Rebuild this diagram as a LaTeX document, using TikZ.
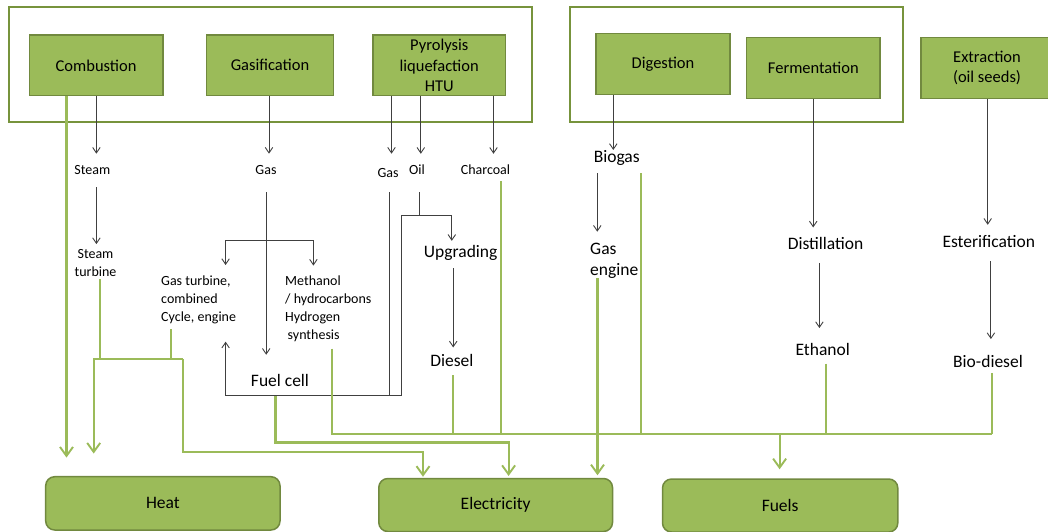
\documentclass[tikz,border=0pt]{standalone}
\usepackage{fontspec}
\setmainfont{Carlito}
\usetikzlibrary{arrows.meta}
\definecolor{leaf}{HTML}{9BBB59}
\definecolor{leafdark}{HTML}{71893F}
\definecolor{framegreen}{HTML}{77933C}
\definecolor{ink}{HTML}{404040}
\begin{document}
\begin{tikzpicture}[x=1pt,y=-1pt,
  procbox/.style={draw=leafdark, line width=1.5pt, fill=leaf, inner sep=0pt, align=center,
    font=\fontsize{16.5}{20.5}\selectfont},
  outbox/.style={procbox, rounded corners=9pt, font=\fontsize{17.5}{21}\selectfont},
  groupframe/.style={draw=framegreen, line width=2pt},
  small/.style={inner sep=0pt, font=\fontsize{14}{18}\selectfont},
  large/.style={inner sep=0pt, font=\fontsize{17.5}{21}\selectfont},
  flow/.style={draw=ink, line width=0.9pt},
  flowarr/.style={flow, -{Straight Barb[length=5.5pt,width=7.5pt]}},
  feed/.style={draw=leaf, line width=2.1pt},
  feedarr/.style={feed, -{Straight Barb[length=9pt,width=13pt,line width=1.9pt]}},
]
\path[use as bounding box] (0,0) rectangle (1048,531);

% group frames: thermo-chemical and bio-chemical routes
\draw[groupframe] (8.6,7.3) rectangle (532,121.7);
\draw[groupframe] (570,7.3) rectangle (902.7,122.3);

% conversion processes
\node[procbox, minimum width=133.6pt, minimum height=60.7pt] (comb) at (96.1,65.35) {Combustion};
\node[procbox, minimum width=126.7pt, minimum height=60.7pt] (gasif) at (270,65.35) {Gasification};
\node[procbox, minimum width=132.5pt, minimum height=60.7pt] (pyro) at (439.25,65.35) {Pyrolysis\\liquefaction\\HTU};
\node[procbox, minimum width=134pt, minimum height=61pt] (dig) at (663,63.8) {Digestion};
\node[procbox, minimum width=133.3pt, minimum height=60.6pt] (ferm) at (813.35,68) {Fermentation};
\node[procbox, minimum width=132pt, minimum height=60.6pt] (extr) at (987,68) {Extraction\\(oil seeds)};

% end uses
\node[outbox, minimum width=234.3pt, minimum height=53.3pt] (heat) at (162.85,503.35) {Heat};
\node[outbox, minimum width=233.7pt, minimum height=53pt] (elec) at (495.65,505) {Electricity};
\node[outbox, minimum width=235.3pt, minimum height=53pt] (fuels) at (780.15,505.5) {Fuels};

% intermediate products and conversion steps
\node[small] (steam) at (92.3,170) {Steam};
\node[small] (gasA) at (266,170) {Gas};
\node[small] (gasB) at (388,173.3) {Gas};
\node[small] (oil) at (417,170) {Oil};
\node[small] (charcoal) at (485.5,170) {Charcoal};
\node[small, align=center] (sturb) at (95.5,262.6) {Steam\\turbine};
\node[small, align=left, anchor=west] (gturb) at (161,299.7) {Gas turbine,\\combined\\Cycle, engine};
\node[small, align=left, anchor=west] (meth) at (285,309.2) {Methanol\\/ hydrocarbons\\Hydrogen\\\hspace{2.5pt}synthesis};
\node[large] (biogas) at (616.7,157.7) {Biogas};
\node[large, align=left, anchor=west] (gengine) at (590,260.5) {Gas\\engine};
\node[large] (upgr) at (460.7,253.3) {Upgrading};
\node[large] (diesel) at (451.8,360) {Diesel};
\node[large] (fcell) at (280,380.7) {Fuel cell};
\node[large] (distil) at (825.6,243.3) {Distillation};
\node[large] (ethanol) at (822.7,349.3) {Ethanol};
\node[large] (ester) at (988.8,241.7) {Esterification};
\node[large] (biodsl) at (988,361.7) {Bio-diesel};

% connector columns
\coordinate (cCombG) at (66.5,0);
\coordinate (cSteam) at (96.4,0);
\coordinate (cSturbG) at (100.2,0);
\coordinate (cGTg) at (171.1,0);
\coordinate (cGT) at (225.6,0);
\coordinate (cGasA) at (269,0);
\coordinate (cGasAlo) at (266.2,0);
\coordinate (cFC) at (275.5,0);
\coordinate (cMe) at (313.4,0);
\coordinate (cGasB) at (391.5,0);
\coordinate (cGasBlo) at (389.5,0);
\coordinate (cOil) at (420.8,0);
\coordinate (cOillo) at (419.4,0);
\coordinate (cE1) at (423,0);
\coordinate (cUp) at (451.8,0);
\coordinate (cUpD) at (453.2,0);
\coordinate (cDG) at (453.3,0);
\coordinate (cChar) at (493.5,0);
\coordinate (cCharG) at (501.3,0);
\coordinate (cE2) at (508.6,0);
\coordinate (cBioB) at (597.3,0);
\coordinate (cGE) at (597.5,0);
\coordinate (cDig) at (613.3,0);
\coordinate (cBioG) at (640.9,0);
\coordinate (cFu) at (779.6,0);
\coordinate (cFerm) at (813.2,0);
\coordinate (cDist) at (819.4,0);
\coordinate (cEtG) at (825.6,0);
\coordinate (cExtr) at (987.7,0);
\coordinate (cEst) at (990.9,0);
\coordinate (cBD) at (991.7,0);

% junctions and bends
\coordinate (tbar) at (266.2,240.7);
\coordinate (osplit) at (419.4,215);
\coordinate (loopR) at (401.2,395);
\coordinate (hL) at (93.7,359);
\coordinate (hR) at (183.2,359);
\coordinate (eBend) at (183.2,452);
\coordinate (fcBend) at (275.5,442.5);
\coordinate (busL) at (332.3,434);
\coordinate (busR) at (991.7,434);

% thermo-chemical chains
\draw[flowarr, shorten >=11.5pt] (comb.south -| cSteam) -- (cSteam |- steam.north);
\draw[flowarr, shorten <=12.2pt, shorten >=4.7pt] (cSteam |- steam.south) -- (cSteam |- sturb.north);
\draw[flowarr, shorten >=11.5pt] (gasif.south -| cGasA) -- (cGasA |- gasA.north);
\draw[flowarr, shorten <=17.5pt, shorten >=19.6pt] (cGasAlo |- gasA.south) -- (cGasAlo |- fcell.north);
\draw[flowarr, shorten >=10.4pt] (tbar) -| (cGT |- gturb.north);
\draw[flowarr, shorten >=10.4pt] (tbar) -| (cMe |- meth.north);
\draw[flowarr, shorten >=14.8pt] (pyro.south -| cGasB) -- (cGasB |- gasB.north);
\draw[flow, shorten <=14.2pt] (cGasBlo |- gasB.south) -- (cGasBlo |- loopR);
\draw[flowarr, shorten >=11.1pt] (pyro.south -| cOil) -- (cOil |- oil.north);
\draw[flow, shorten <=17pt] (cOillo |- oil.south) -- (osplit);
\draw[flowarr, shorten >=4.7pt] (osplit) -| (cUp |- upgr.north);
\draw[flowarr, shorten >=17.7pt] (osplit) -| (loopR) -| (cGT |- gturb.south);
\draw[flowarr, shorten >=11.1pt] (pyro.south -| cChar) -- (cChar |- charcoal.north);
\draw[flowarr, shorten <=7.1pt, shorten >=6.2pt] (cUpD |- upgr.south) -- (cUpD |- diesel.north);

% bio-chemical chains
\draw[flowarr] (dig.south -| cDig) -- (cDig |- biogas.north);
\draw[flowarr, shorten <=7.7pt, shorten >=10.9pt] (cBioB |- biogas.south) -- (cBioB |- gengine.north);
\draw[flowarr, shorten >=9.5pt] (ferm.south -| cFerm) -- (cFerm |- distil.north);
\draw[flowarr, shorten <=13.3pt, shorten >=14.9pt] (cDist |- distil.south) -- (cDist |- ethanol.north);
\draw[flowarr, shorten >=10.6pt] (extr.south -| cExtr) -- (cExtr |- ester.north);
\draw[flowarr, shorten <=13.2pt, shorten >=16.3pt] (cEst |- ester.south) -- (cEst |- biodsl.north);

% heat
\draw[feedarr, shorten >=18.4pt] (comb.south -| cCombG) -- (cCombG |- heat.north);
\draw[feed, shorten <=2.8pt] (cSturbG |- sturb.south) -- (cSturbG |- hL);
\draw[feed, shorten <=5.3pt] (cGTg |- gturb.south) -- (cGTg |- hL);
\draw[feedarr, shorten >=22.4pt] (hR) -- (hL) -- (hL |- heat.north);

% electricity
\draw[feedarr, shorten >=1pt] (hR) -- (eBend) -| (cE1 |- elec.north);
\draw[feedarr, shorten <=9.2pt, shorten >=1.8pt] (cFC |- fcell.south) -- (fcBend) -| (cE2 |- elec.north);
\draw[feedarr, shorten >=2.5pt] (cGE |- gengine.south) -- (cGE |- elec.north);

% fuels bus
\draw[feed, shorten <=6.3pt] (busL |- meth.south) -- (busL) -- (busR);
\draw[feed, shorten <=4.9pt] (cBD |- biodsl.south) -- (busR);
\draw[feed, shorten <=8.9pt] (cDG |- diesel.south) -- (cDG |- busL);
\draw[feed, shorten <=6pt] (cCharG |- charcoal.south) -- (cCharG |- busL);
\draw[feed, shorten <=7.7pt] (cBioG |- biogas.south) -- (cBioG |- busL);
\draw[feed, shorten <=7.9pt] (cEtG |- ethanol.south) -- (cEtG |- busL);
\draw[feedarr, shorten >=9pt] (cFu |- busL) -- (cFu |- fuels.north);
\end{tikzpicture}
\end{document}
